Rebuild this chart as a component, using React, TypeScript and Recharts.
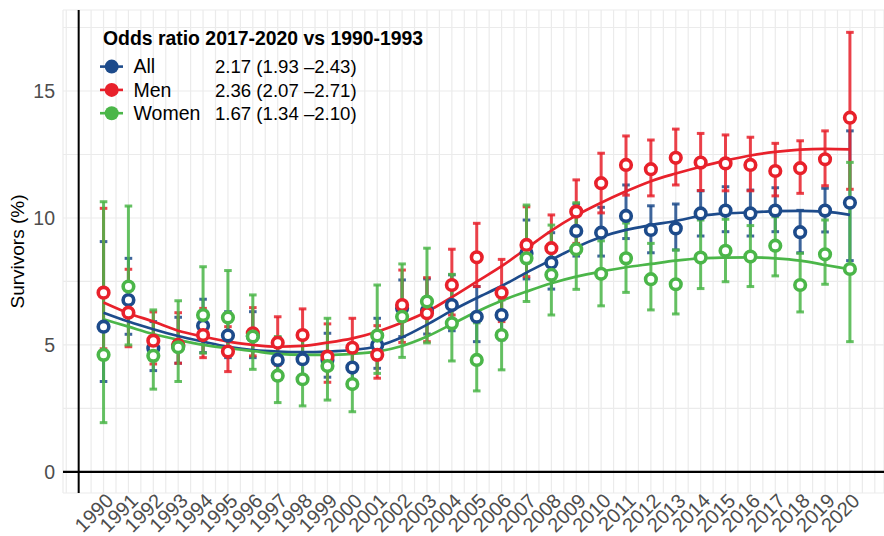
import React from 'react';
import {
    ComposedChart,
    Line,
    XAxis,
    YAxis,
    CartesianGrid,
    ErrorBar,
    ReferenceLine,
    Legend,
    Label
} from 'recharts';

const years = [
    1990, 1991, 1992, 1993, 1994, 1995, 1996, 1997, 1998, 1999, 2000,
    2001, 2002, 2003, 2004, 2005, 2006, 2007, 2008, 2009, 2010,
    2011, 2012, 2013, 2014, 2015, 2016, 2017, 2018, 2019, 2020,
];

// survivors (%) with 95% CI, all patients
const allValues = [5.72, 6.77, 4.87, 4.95, 5.76, 5.37, 5.35, 4.41, 4.44, 4.41, 4.11, 5.0, 6.45, 6.35, 6.57, 6.11, 6.18, 8.62, 8.24, 9.49, 9.42, 10.08, 9.53, 9.59, 10.18, 10.29, 10.18, 10.29, 9.44, 10.29, 10.6];
const allLow = [3.56, 5.42, 3.99, 4.28, 4.7, 4.5, 4.5, 3.7, 3.7, 3.73, 3.4, 4.08, 5.33, 5.43, 5.56, 5.13, 5.2, 7.6, 7.2, 8.5, 8.5, 9.19, 8.63, 8.74, 9.29, 9.46, 9.29, 9.46, 8.63, 9.45, 8.32];
const allHigh = [9.07, 8.41, 5.92, 6.09, 6.8, 6.31, 6.31, 5.3, 5.35, 5.46, 4.95, 6.05, 7.56, 7.6, 7.76, 7.3, 7.25, 9.92, 9.42, 10.55, 10.42, 11.3, 10.48, 10.55, 11.07, 11.23, 11.1, 11.19, 10.3, 11.17, 13.43];
const allFit = [6.27, 5.92, 5.62, 5.35, 5.13, 4.93, 4.8, 4.74, 4.72, 4.74, 4.8, 4.95, 5.3, 5.8, 6.35, 6.85, 7.32, 7.85, 8.35, 8.85, 9.25, 9.53, 9.72, 9.88, 10.08, 10.18, 10.22, 10.27, 10.28, 10.25, 10.12];

const menValues = [7.06, 6.27, 5.17, 5.0, 5.39, 4.74, 5.46, 5.09, 5.39, 4.54, 4.89, 4.61, 6.57, 6.25, 7.36, 8.45, 7.06, 8.94, 8.81, 10.25, 11.37, 12.09, 11.92, 12.37, 12.18, 12.15, 12.09, 11.85, 11.96, 12.31, 13.95];
const menLow = [4.85, 4.93, 4.25, 4.28, 4.5, 3.95, 4.57, 4.2, 4.45, 3.53, 3.95, 3.69, 5.1, 5.13, 6.18, 7.3, 5.92, 7.69, 7.6, 9.0, 10.2, 10.9, 10.87, 11.3, 11.08, 11.07, 11.07, 10.87, 10.97, 11.27, 11.13];
const menHigh = [10.38, 7.98, 6.3, 6.27, 6.44, 5.72, 6.47, 6.11, 6.42, 5.83, 6.05, 5.76, 7.95, 7.65, 8.77, 9.79, 8.37, 10.44, 10.12, 11.5, 12.55, 13.23, 13.07, 13.5, 13.33, 13.27, 13.18, 12.94, 13.04, 13.43, 17.31];
const menFit = [6.67, 6.25, 5.92, 5.56, 5.33, 5.13, 5.0, 4.93, 4.96, 5.09, 5.26, 5.52, 5.88, 6.31, 6.88, 7.49, 8.1, 8.8, 9.5, 10.1, 10.6, 11.05, 11.45, 11.75, 12.02, 12.26, 12.46, 12.6, 12.69, 12.72, 12.7];

const womenValues = [4.61, 7.3, 4.57, 4.91, 6.18, 6.08, 5.33, 3.79, 3.65, 4.17, 3.46, 5.37, 6.11, 6.71, 5.85, 4.41, 5.39, 8.41, 7.76, 8.77, 7.8, 8.41, 7.59, 7.39, 8.44, 8.71, 8.48, 8.91, 7.36, 8.57, 7.99];
const womenLow = [1.94, 5.0, 3.26, 3.56, 4.68, 4.6, 4.04, 2.73, 2.6, 2.83, 2.37, 3.88, 4.51, 5.08, 4.37, 3.19, 4.02, 6.71, 6.18, 7.19, 6.54, 7.07, 6.38, 6.22, 7.22, 7.49, 7.3, 7.72, 6.3, 7.39, 5.13];
const womenHigh = [10.64, 10.47, 6.38, 6.74, 8.08, 7.93, 6.97, 5.33, 5.22, 6.05, 4.75, 7.36, 8.19, 8.81, 7.78, 5.87, 6.77, 10.51, 9.72, 10.6, 9.1, 9.8, 9.0, 8.74, 9.92, 9.95, 9.7, 10.05, 8.61, 9.92, 12.19];
const womenFit = [6.01, 5.72, 5.43, 5.2, 5.0, 4.87, 4.76, 4.65, 4.61, 4.61, 4.65, 4.74, 4.96, 5.33, 5.82, 6.31, 6.74, 7.1, 7.43, 7.69, 7.89, 8.06, 8.19, 8.32, 8.41, 8.44, 8.45, 8.41, 8.32, 8.15, 7.98];

const seriesNames = ['All', 'Men', 'Women'];
const oddsRatios = ['2.17 (1.93 \u20132.43)', '2.36 (2.07 \u20132.71)', '1.67 (1.34 \u20132.10)'];
const legendTitle = 'Odds ratio 2017-2020 vs 1990-1993';
const yLabels = [0, 5, 10, 15];

const colors = ['#1d4b8b', '#e8212b', '#4bb649'];
const keys = ['all', 'men', 'women'];
const font = '"Liberation Sans", Arial, Helvetica, sans-serif';

// grid every half unit (minor lines)
const xGrid: number[] = [];
for (let v = 1988.5; v <= 2021; v += 0.5) xGrid.push(v);
const yGrid: number[] = [];
for (let v = 0; v <= 17.5; v += 2.5) yGrid.push(v);

const data = years.map((year, i) => ({
    year,
    all: allValues[i],
    allErr: [allValues[i] - allLow[i], allHigh[i] - allValues[i]],
    allFit: allFit[i],
    men: menValues[i],
    menErr: [menValues[i] - menLow[i], menHigh[i] - menValues[i]],
    menFit: menFit[i],
    women: womenValues[i],
    womenErr: [womenValues[i] - womenLow[i], womenHigh[i] - womenValues[i]],
    womenFit: womenFit[i],
}));

const YearTick = (props: any) => {
    const { x, y, payload } = props;
    if (!years.includes(payload.value)) return <g />;
    const tx = x + 11;
    const ty = y + 9;
    return (
        <text x={tx} y={ty} transform={`rotate(-45 ${tx} ${ty})`} textAnchor="end" fill="#4d4d4d" fontSize={20}>
            {payload.value}
        </text>
    );
};

const LegendBox = () => (
    <svg width={440} height={130} style={{ display: 'block' }}>
        <text x={103} y={45} fontSize={19.4} fontWeight="bold" fill="#000">{legendTitle}</text>
        {seriesNames.map((name, i) => {
            const base = 73.3 + i * 23.3;
            const cy = base - 6.7;
            return (
                <g key={name}>
                    <line x1={100} x2={123} y1={cy} y2={cy} stroke={colors[i]} strokeWidth={2.6} />
                    <circle cx={111.7} cy={cy} r={7} fill={colors[i]} />
                    <text x={133.5} y={base} fontSize={19.5} fill="#000">{name}</text>
                    <text x={215} y={base} fontSize={18.6} fill="#000">{oddsRatios[i]}</text>
                </g>
            );
        })}
    </svg>
);

const App: React.FC = () => {
    return (
        <div style={{ position: 'absolute', left: 0, top: 0, width: 884, height: 536, background: '#fff', fontFamily: font }}>
            <ComposedChart
                width={884}
                height={536}
                data={data}
                margin={{ top: 10, right: 0, bottom: 0, left: 0 }}
                style={{ fontFamily: font }}
            >
                <CartesianGrid stroke="#ebebeb" strokeWidth={1.2} />
                <XAxis
                    type="number"
                    dataKey="year"
                    domain={[1988.37, 2021.37]}
                    ticks={xGrid}
                    interval={0}
                    tick={<YearTick />}
                    tickLine={false}
                    tickSize={0}
                    tickMargin={0}
                    axisLine={false}
                    height={43}
                    allowDataOverflow
                />
                <YAxis
                    type="number"
                    domain={[-0.83, 18.19]}
                    ticks={yGrid}
                    interval={0}
                    width={63}
                    tickLine={false}
                    tickSize={0}
                    tickMargin={8}
                    axisLine={false}
                    tickFormatter={(v: number) => (yLabels.includes(v) ? String(v) : '')}
                    tick={{ fill: '#4d4d4d', fontSize: 19.5 }}
                    allowDataOverflow
                >
                    <Label
                        content={(p: any) => {
                            const vb = p.viewBox || { x: 0, y: 10, height: 483 };
                            const cx = vb.x + 17;
                            const cy = vb.y + vb.height / 2;
                            return (
                                <text x={cx} y={cy} transform={`rotate(-90 ${cx} ${cy})`} textAnchor="middle" dominantBaseline="central" fontSize={19} fill="#000">
                                    Survivors (%)
                                </text>
                            );
                        }}
                    />
                </YAxis>
                <ReferenceLine y={0} stroke="#000" strokeWidth={2.4} />
                <ReferenceLine x={1989} stroke="#000" strokeWidth={2} />

                {keys.map((k, i) => (
                    <Line
                        key={k + 'err'}
                        dataKey={k}
                        stroke="none"
                        dot={false}
                        activeDot={false}
                        legendType="none"
                        isAnimationActive={false}
                    >
                        <ErrorBar dataKey={k + 'Err'} width={3.8} strokeWidth={3} stroke={colors[i]} strokeOpacity={0.85} direction="y" />
                    </Line>
                ))}
                {keys.map((k, i) => (
                    <Line
                        key={k + 'pt'}
                        dataKey={k}
                        stroke="none"
                        dot={{ r: 5.3, strokeWidth: 3.6, fill: '#fff', stroke: colors[i] }}
                        activeDot={false}
                        legendType="none"
                        isAnimationActive={false}
                    />
                ))}
                {keys.map((k, i) => (
                    <Line
                        key={k + 'fit'}
                        type="monotone"
                        dataKey={k + 'Fit'}
                        stroke={colors[i]}
                        strokeWidth={2.7}
                        dot={false}
                        activeDot={false}
                        legendType="none"
                        isAnimationActive={false}
                    />
                ))}
                <Legend
                    layout="horizontal"
                    verticalAlign="middle"
                    align="center"
                    wrapperStyle={{ top: 0, left: 0, width: 440, height: 130 }}
                    content={<LegendBox />}
                />
            </ComposedChart>
        </div>
    );
};

export default App;
